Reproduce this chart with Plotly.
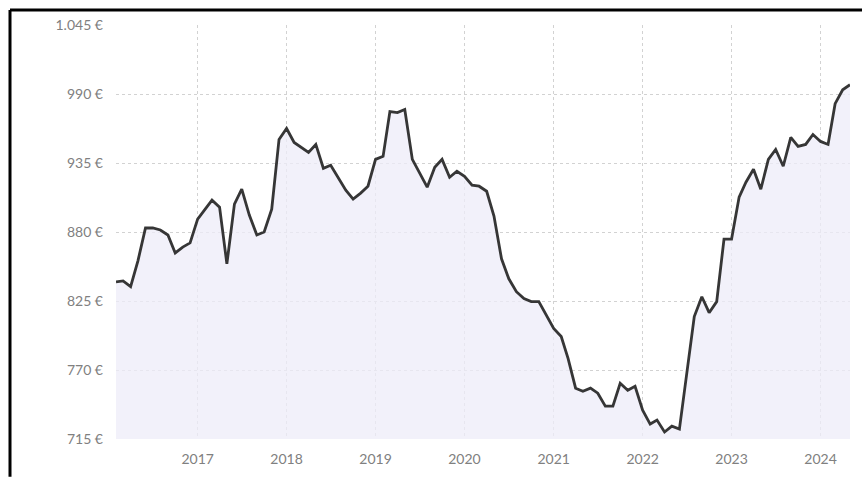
import plotly.graph_objects as go
import pandas as pd

# Monthly prices, Feb 2016 - May 2024
start_month = "2016-02-01"
prices = [
    840.3, 841.0, 836.4, 857.0, 883.2, 883.2, 881.6, 877.6, 863.3, 868.0, 871.3,  # 2016 Feb-Dec
    890.3, 898.2, 905.4, 899.8, 854.6, 902.2, 914.1, 893.5, 877.6, 880.0, 898.2, 953.8,  # 2017
    962.5, 951.4, 947.4, 943.5, 949.8, 930.8, 933.2, 923.6, 913.3, 906.2, 911.0, 916.5,  # 2018
    937.9, 940.3, 976.0, 975.2, 977.6, 937.9, 926.8, 915.7, 931.6, 937.9, 923.6, 928.4,  # 2019
    924.4, 917.3, 916.5, 912.5, 892.7, 858.6, 842.7, 832.4, 826.9, 824.5, 824.5, 813.4,  # 2020
    803.1, 796.7, 779.3, 755.5, 753.1, 755.5, 751.5, 741.2, 741.2, 759.4, 753.9, 757.0,  # 2021
    738.0, 726.9, 730.1, 720.6, 725.3, 722.9, 765.8, 812.6, 828.4, 815.7, 824.5, 874.4,  # 2022
    874.4, 907.8, 919.7, 930.0, 914.1, 937.9, 945.8, 932.4, 955.4, 948.2, 949.8, 957.7,  # 2023
    952.2, 949.8, 982.3, 993.4, 997.4,  # 2024 Jan-May
]
dates = pd.date_range(start_month, periods=len(prices), freq="MS")

y_ticks = [715, 770, 825, 880, 935, 990, 1045]
y_ticktext = ["715 €", "770 €", "825 €", "880 €", "935 €", "990 €", "1.045 €"]
x_years = [2017, 2018, 2019, 2020, 2021, 2022, 2023, 2024]

fig = go.Figure()
fig.add_trace(go.Scatter(
    x=dates, y=prices, mode="lines",
    line=dict(color="#363636", width=2.8),
    fill="tozeroy", fillcolor="rgba(238,236,248,0.75)",
    hoverinfo="skip", showlegend=False,
))

grid_col = "#d2d2d2"
fig.update_layout(
    width=862, height=479,
    margin=dict(l=116, r=12, t=25, b=38),
    paper_bgcolor="white", plot_bgcolor="white",
    font=dict(family="Lato, sans-serif", size=14, color="#808080"),
    xaxis=dict(
        range=[dates[0], dates[-1]],
        tickvals=[pd.Timestamp(f"{y}-01-01") for y in x_years],
        ticktext=[str(y) for y in x_years],
        showgrid=True, gridcolor=grid_col, griddash="dot", gridwidth=1,
        zeroline=False, showline=False, ticks="",
        ticklabelstandoff=10,
    ),
    yaxis=dict(
        range=[715, 1045],
        tickvals=y_ticks, ticktext=y_ticktext,
        showgrid=True, gridcolor=grid_col, griddash="dot", gridwidth=1,
        zeroline=False, showline=False, ticks="",
        ticklabelstandoff=12,
    ),
    shapes=[
        dict(type="line", xref="paper", yref="paper",
             x0=(10 - 116) / 734, x1=(862 - 116) / 734,
             y0=(441 - 10) / 416, y1=(441 - 10) / 416,
             line=dict(color="black", width=3)),
        dict(type="line", xref="paper", yref="paper",
             x0=(10 - 116) / 734, x1=(10 - 116) / 734,
             y0=(441 - 10) / 416, y1=(441 - 479) / 416,
             line=dict(color="black", width=3)),
    ],
)

fig.write_html("out.html")
